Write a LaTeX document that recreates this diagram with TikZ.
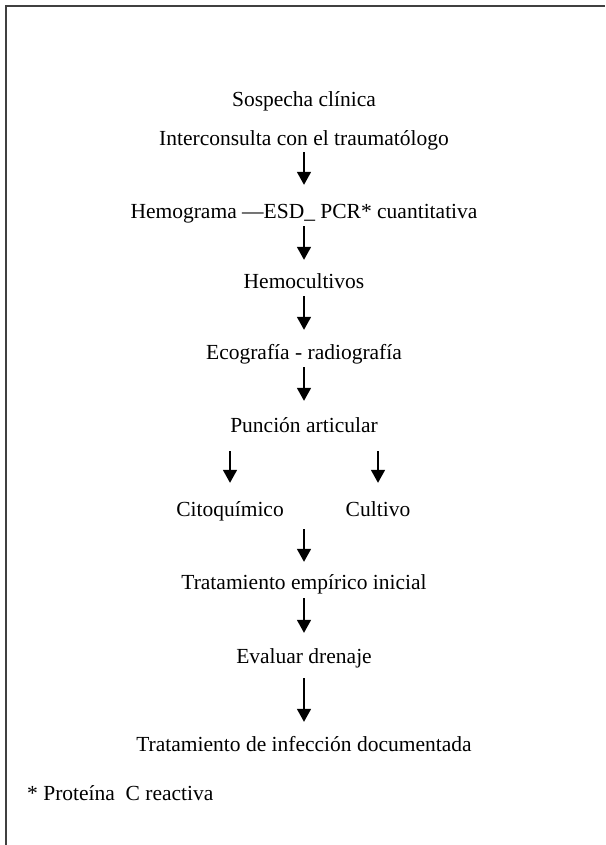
\documentclass[tikz,border=0pt]{standalone}
\usepackage{fontspec}
\setmainfont{Liberation Serif}
\usepackage{tikz}
\usetikzlibrary{arrows.meta}
\usetikzlibrary{positioning}

\tikzset{
  paso/.style={inner sep=0pt, anchor=base, text height=15pt, text depth=5pt,
    font=\fontsize{21.5}{26}\selectfont},
  flecha/.style={line width=1.7pt, -{Triangle[length=13pt,width=14pt]},
    shorten <=1pt, shorten >=18pt}
}

\begin{document}
\begin{tikzpicture}[x=1pt, y=-1pt]
    \useasboundingbox (0,0) rectangle (605,845);
    % marco
    \draw [line width=1.4pt, black!75] (6,845) -- (6,6) -- (605,6);

    \node (sosp)   [paso] at (304,107) {Sospecha clínica};
    \node (interc) [paso] at (304,146) {Interconsulta con el traumatólogo};
    \node (hemog)  [paso] at (304,218) {Hemograma —ESD\_ PCR* cuantitativa};
    \node (hemoc)  [paso] at (304,288) {Hemocultivos};
    \node (ecog)   [paso] at (304,359) {Ecografía - radiografía};
    \node (punc)   [paso] at (304,432) {Punción articular};
    \node (citoq)  [paso] at (230,516) {Citoquímico};
    \node (cult)   [paso] at (378,516) {Cultivo};
    \node (trat)   [paso] at (304,589) {Tratamiento empírico inicial};
    \node (evdren) [paso] at (304,663) {Evaluar drenaje};
    \node (tratdoc)[paso] at (304,751) {Tratamiento de infección documentada};
    \node (nota)   [paso, anchor=base west] at (27,800) {* Proteína\ \ C reactiva};

    \draw [flecha] (interc) -- (hemog);
    \draw [flecha, shorten <=3pt, shorten >=13pt] (hemog) -- (hemoc);
    \draw [flecha, shorten <=3pt, shorten >=14pt] (hemoc) -- (ecog);
    \draw [flecha, shorten <=3pt, shorten >=16pt] (ecog) -- (punc);
    \draw [flecha, shorten <=14pt] (punc.south -| citoq) -- (citoq);
    \draw [flecha, shorten <=14pt] (punc.south -| cult) -- (cult);
    \draw [flecha, shorten <=8pt, shorten >=12pt] (cult.south -| trat) -- (trat);
    \draw [flecha, shorten <=4pt, shorten >=15pt] (trat) -- (evdren);
    \draw [flecha, shorten <=10pt, shorten >=14pt] (evdren) -- (tratdoc);
\end{tikzpicture}
\end{document}
